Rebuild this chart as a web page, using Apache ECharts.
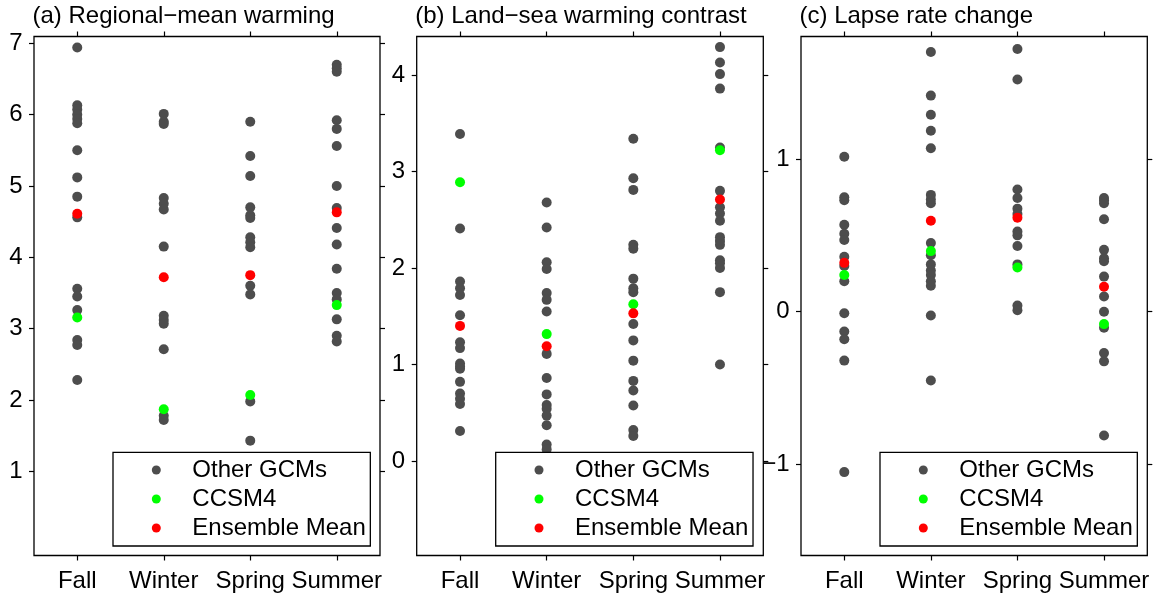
<!DOCTYPE html>
<html>
<head>
<meta charset="utf-8">
<script src="https://cdn.jsdelivr.net/npm/echarts@6/dist/echarts.min.js"></script>
<style>
  html, body { margin: 0; padding: 0; background: #fff; }
  #chart { width: 1156px; height: 599px; }
</style>
</head>
<body>
<div id="chart"></div>
<script>
const seasons = ['Fall', 'Winter', 'Spring', 'Summer']
const names = ['Other GCMs', 'CCSM4', 'Ensemble Mean']

// (a) regional-mean warming
const warmOther = [
  [6.94, 6.13, 6.07, 6.0, 5.94, 5.88, 5.5, 5.12, 4.85, 4.56, 3.56, 3.45, 3.26, 2.84, 2.77, 2.28],
  [6.01, 5.9, 5.87, 4.83, 4.75, 4.67, 4.15, 3.18, 3.12, 3.07, 2.71, 1.78, 1.72],
  [5.9, 5.42, 5.14, 4.7, 4.59, 4.55, 4.28, 4.21, 4.14, 3.6, 3.48, 1.98, 1.43],
  [6.7, 6.65, 6.6, 5.92, 5.8, 5.56, 5.0, 4.69, 4.41, 4.18, 3.84, 3.5, 3.41, 3.13, 2.9, 2.82],
]
const warmCCSM4 = [3.155, 1.87, 2.07, 3.33]
const warmMean = [4.61, 3.72, 3.75, 4.63]
const warmTicks = [1, 2, 3, 4, 5, 6, 7]

// (b) land-sea warming contrast
const contrastOther = [
  [3.39, 2.41, 1.86, 1.79, 1.72, 1.51, 1.23, 1.17, 1.01, 0.98, 0.955, 0.82, 0.7, 0.645, 0.59, 0.31],
  [2.68, 2.42, 2.06, 1.99, 1.74, 1.67, 1.55, 1.11, 0.86, 0.69, 0.58, 0.54, 0.47, 0.37, 0.17, 0.12],
  [3.34, 2.93, 2.81, 2.24, 2.2, 1.89, 1.79, 1.75, 1.42, 1.25, 1.04, 0.83, 0.73, 0.575, 0.32, 0.26],
  [4.29, 4.13, 4.01, 3.86, 3.25, 2.8, 2.63, 2.565, 2.49, 2.32, 2.28, 2.24, 2.08, 2.05, 2.0, 1.75, 1.0],
]
const contrastCCSM4 = [2.89, 1.315, 1.625, 3.22]
const contrastMean = [1.4, 1.19, 1.53, 2.71]
const contrastTicks = [0, 1, 2, 3, 4]

// (c) lapse rate change
const lapseOther = [
  [1.015, 0.75, 0.73, 0.57, 0.51, 0.47, 0.36, 0.3, 0.2, -0.01, -0.13, -0.18, -0.32, -1.05],
  [1.7, 1.415, 1.29, 1.185, 1.07, 0.765, 0.735, 0.71, 0.45, 0.37, 0.31, 0.27, 0.24, 0.2, 0.17, -0.025, -0.45],
  [1.72, 1.52, 0.8, 0.745, 0.675, 0.64, 0.525, 0.5, 0.43, 0.31, 0.04, 0.01],
  [0.745, 0.73, 0.71, 0.605, 0.405, 0.35, 0.33, 0.23, 0.1, 0.0, -0.105, -0.27, -0.325, -0.81],
]
const lapseCCSM4 = [0.24, 0.397, 0.29, -0.081]
const lapseMean = [0.32, 0.596, 0.616, 0.164]
const lapseTicks = [-1, 0, 1]

const panels = [
  { title: '(a) Regional\u2212mean warming', other: warmOther, ccsm: warmCCSM4, mean: warmMean, ticks: warmTicks, min: -0.18, max: 7.095 },
  { title: '(b) Land\u2212sea warming contrast', other: contrastOther, ccsm: contrastCCSM4, mean: contrastMean, ticks: contrastTicks, min: -0.98, max: 4.4 },
  { title: '(c) Lapse rate change', other: lapseOther, ccsm: lapseCCSM4, mean: lapseMean, ticks: lapseTicks, min: -1.596, max: 1.802 },
]

const grids = [
  { left: 34, top: 36.5, width: 346, height: 519 },
  { left: 416.7, top: 36.5, width: 346.6, height: 519 },
  { left: 801, top: 36.5, width: 346.3, height: 519 },
]

const black = '#000'
const tickLine = { color: black, width: 1.2 }
const colors = ['#4d4d4d', '#00ff00', '#ff0000']

const chart = echarts.init(document.getElementById('chart'))
const option = {
  animation: false,
  backgroundColor: '#fff',
  textStyle: { fontFamily: '"Liberation Sans", Arial, Helvetica, sans-serif' },
  title: [],
  grid: [],
  xAxis: [],
  yAxis: [],
  legend: [],
  series: [],
}

panels.forEach((p, i) => {
  const g = grids[i]
  option.title.push({
    text: p.title,
    left: g.left - 1.5,
    top: 4,
    padding: 0,
    textStyle: { fontSize: 24, fontWeight: 'normal', color: black },
  })
  option.grid.push({
    left: g.left,
    top: g.top,
    width: g.width,
    height: g.height,
    show: true,
    borderColor: black,
    borderWidth: 1.3,
    backgroundColor: 'transparent',
  })
  ;['bottom', 'top'].forEach((pos) => {
    option.xAxis.push({
      type: 'category',
      gridIndex: i,
      position: pos,
      data: seasons,
      boundaryGap: true,
      axisLine: { show: false, onZero: false },
      axisTick: { show: true, alignWithLabel: true, length: 5, lineStyle: tickLine },
      axisLabel: { show: pos === 'bottom', interval: 0, fontSize: 24, color: black, margin: 14 },
      splitLine: { show: false },
    })
  })
  ;['left', 'right'].forEach((pos) => {
    option.yAxis.push({
      type: 'value',
      gridIndex: i,
      position: pos,
      min: p.min,
      max: p.max,
      axisLine: { show: false, onZero: false },
      axisTick: { show: true, length: 5, customValues: p.ticks, lineStyle: tickLine },
      axisLabel: {
        show: pos === 'left',
        customValues: p.ticks,
        fontSize: 24,
        color: black,
        margin: 11.5,
        formatter: (v) => String(v).replace('-', '\u2212'),
      },
      splitLine: { show: false },
    })
  })

  const otherData = []
  p.other.forEach((vals, c) => {
    vals.forEach((v) => otherData.push([c, v]))
  })
  const sets = [
    otherData,
    p.ccsm.map((v, c) => [c, v]),
    p.mean.map((v, c) => [c, v]),
  ]
  sets.forEach((d, k) => {
    option.series.push({
      name: names[k],
      type: 'scatter',
      xAxisIndex: 2 * i,
      yAxisIndex: 2 * i,
      symbol: 'circle',
      symbolSize: 10,
      itemStyle: { color: colors[k], opacity: 1 },
      emphasis: { disabled: true },
      z: 2 + k,
      data: d,
    })
  })

  option.legend.push({
    data: names,
    orient: 'vertical',
    left: g.left + 79,
    top: 452.3,
    icon: 'circle',
    itemWidth: 9,
    itemHeight: 9,
    itemGap: 5,
    padding: [5.7, 4.6, 6, 38.8],
    backgroundColor: '#fff',
    borderColor: black,
    borderWidth: 1.3,
    borderRadius: 0,
    selectedMode: false,
    textStyle: { fontSize: 24, lineHeight: 24, color: black, padding: [0, 0, 0, 26.5] },
  })
})

chart.setOption(option)
</script>
</body>
</html>
